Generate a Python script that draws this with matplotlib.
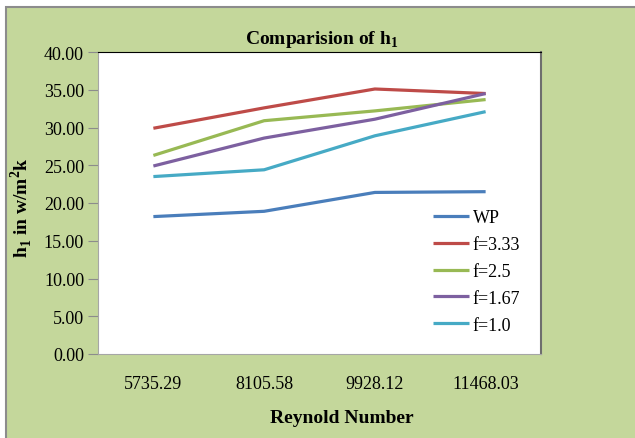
import numpy as np
import matplotlib.pyplot as plt
from matplotlib.patches import Rectangle

plt.rcParams['font.family'] = ['Liberation Serif', 'DejaVu Serif']
plt.rcParams['mathtext.fontset'] = 'custom'
plt.rcParams['mathtext.rm'] = 'Liberation Serif'
plt.rcParams['mathtext.bf'] = 'Liberation Serif:bold'

reynolds = ["5735.29", "8105.58", "9928.12", "11468.03"]
wp    = [18.2, 18.9, 21.4, 21.5]
f3_33 = [29.9, 32.6, 35.1, 34.5]
f2_5  = [26.3, 30.9, 32.2, 33.7]
f1_67 = [24.9, 28.6, 31.1, 34.5]
f1_0  = [23.5, 24.4, 28.9, 32.1]

series = [
    ("WP",     wp,    "#4A7EBB"),
    ("f=3.33", f3_33, "#BE4B48"),
    ("f=2.5",  f2_5,  "#98B954"),
    ("f=1.67", f1_67, "#7D60A0"),
    ("f=1.0",  f1_0,  "#46AAC5"),
]

W, H = 635, 439
fig = plt.figure(figsize=(W / 100, H / 100), dpi=100)
fig.patch.set_facecolor("white")

# chart area background with grey edge on top/left
fig.patches.append(Rectangle((6 / W, -0.05), 1.2, (H - 7.5) / H + 0.05, transform=fig.transFigure,
                             facecolor="#C4D79B", edgecolor="#8C8C8C", linewidth=1.5,
                             zorder=-1))

ax = fig.add_axes([98 / W, (H - 355) / H, 443 / W, 302 / H])
ax.set_zorder(1)
ax.set_facecolor("white")

x = np.arange(len(reynolds))
for name, vals, col in series:
    ax.plot(x, vals, color=col, linewidth=2.3, label=name, solid_capstyle="butt")

ax.set_xlim(-0.5, len(reynolds) - 0.5)
ax.set_ylim(0, 40)
ax.set_yticks(np.arange(0, 40.1, 5))
ax.set_yticklabels([f"{v:.2f}" for v in np.arange(0, 40.1, 5)])
ax.set_xticks(x)
ax.set_xticklabels(reynolds)
ax.tick_params(axis="y", length=7, width=0.8, color="#8C8C8C", labelsize=13, pad=3)
ax.tick_params(axis="x", length=0, labelsize=13, pad=15)

ax.spines["top"].set_color("black")
ax.spines["right"].set_color("#6E6E6E")
ax.spines["right"].set_linewidth(1.5)
ax.spines["left"].set_color("#A6A6A6")
ax.spines["bottom"].set_color("#A6A6A6")

fig.text(322 / W, 1 - 40 / H, r"Comparision of h$_\mathbf{1}$", ha="center", va="center",
         fontsize=14, fontweight="bold")
fig.text(21 / W, 1 - 208 / H, r"h$_\mathbf{1}$ in w/m$^\mathbf{2}$k", ha="center", va="center",
         rotation=90, fontsize=14, fontweight="bold")
fig.text(342 / W, 1 - 419 / H, "Reynold Number", ha="center", va="center",
         fontsize=14, fontweight="bold")

leg = ax.legend(loc="upper left", bbox_to_anchor=(433 / W, 1 - 210 / H),
                bbox_transform=fig.transFigure, frameon=False, fontsize=13,
                borderpad=0, borderaxespad=0,
                handlelength=2.0, handletextpad=0.2, labelspacing=0.55)

plt.savefig("out.png", dpi=100)
